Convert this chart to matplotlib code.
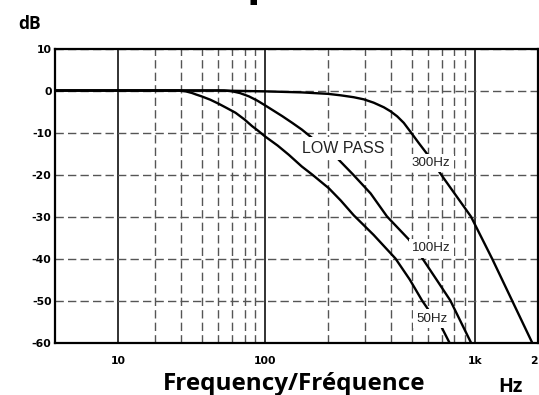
import matplotlib
matplotlib.use("Agg")
import matplotlib.pyplot as plt

plt.rcParams["axes.unicode_minus"] = False

# response curves (Hz, dB)
f_50 = [10, 39, 42, 45, 47, 50, 55, 60.5, 66, 72.5, 80, 87, 93, 100, 115, 130, 150, 168,
        202, 230, 265, 330, 419, 490, 561, 615, 691, 757]
db_50 = [0, 0, -0.2, -0.6, -0.95, -1.4, -2.2, -3.2, -4.2, -5.3, -6.9, -8.5, -9.6, -10.9,
         -13.1, -15.3, -18.1, -20, -23.3, -26.2, -29.7, -34.4, -40, -45, -50, -52.9, -56.1, -60]

f_100 = [10, 64, 70, 76, 84, 92, 100, 110, 121, 135, 150, 168, 221, 262, 319, 382,
         484, 560, 661, 765, 959]
db_100 = [0, 0, -0.2, -0.6, -1.4, -2.4, -3.5, -4.8, -6.1, -7.7, -9.3, -11.3, -16.1, -19.9,
          -24.5, -30, -35.4, -39.8, -45.2, -50, -60]

f_300 = [10, 60, 100, 150, 200, 230, 265, 296, 330, 369, 397, 427, 459, 497, 541, 597,
         691, 959, 1209, 1506, 1876]
db_300 = [0, 0, -0.2, -0.45, -0.8, -1.15, -1.6, -2.1, -2.9, -4.0, -4.95, -6.15, -7.7, -10,
          -12.5, -15.3, -20, -30, -40, -50, -60]

# axis ticks as printed on the chart (the last one is cut to "2" at the edge)
x_major = [20, 100, 1000, 2000]
x_major_labels = ["10", "100", "1k", "2"]
x_minor = [30, 40, 50, 60, 70, 80, 90, 200, 300, 400, 500, 600, 700, 800, 900]
y_ticks = [10, 0, -10, -20, -30, -40, -50, -60]

curve_labels = ["50Hz", "100Hz", "300Hz"]
curve_label_pos = [(624, -54.3), (624, -37.6), (620, -17.3)]

fig = plt.figure(figsize=(5.39, 3.95), dpi=100)
ax = fig.add_axes([0.102, 0.1329, 0.896, 0.7443])

ax.set_xscale("log")
ax.set_xlim(10, 2000)
ax.set_ylim(-60, 10)

ax.set_xticks(x_major, labels=x_major_labels)
ax.set_xticks(x_minor, minor=True)
ax.set_xticklabels([], minor=True)
ax.set_yticks(y_ticks)

ax.tick_params(which="both", length=0)
ax.tick_params(axis="x", pad=9.5, labelsize=7.8)
ax.tick_params(axis="y", pad=2.5, labelsize=7.8)
for lab in ax.get_xticklabels() + ax.get_yticklabels():
    lab.set_fontweight("bold")
    lab.set_family("DejaVu Sans")
ax.get_xticklabels()[-1].set_horizontalalignment("right")

# grid: solid at decades, dashed elsewhere
dash = (0, (6, 3))
ax.grid(which="major", axis="x", color="#222222", lw=1.3, ls="-", zorder=1)
ax.grid(which="minor", axis="x", color="#555555", lw=1.0, ls=dash, zorder=1)
ax.grid(which="major", axis="y", color="#555555", lw=1.0, ls=dash, zorder=1)
ax.set_axisbelow(True)

for sp in ax.spines.values():
    sp.set_linewidth(1.6)
    sp.set_color("black")

for f, db in [(f_50, db_50), (f_100, db_100), (f_300, db_300)]:
    ax.plot(f, db, color="black", lw=1.7, zorder=3, solid_joinstyle="round")

box = dict(boxstyle="square,pad=0.25", fc="white", ec="none")
ax.text(237, -13.9, "LOW PASS", ha="center", va="center", fontsize=11.5,
        family="Liberation Sans", color="#222222", bbox=box, zorder=4)
for lab, (x, y) in zip(curve_labels, curve_label_pos):
    ax.text(x, y, lab, ha="center", va="center", fontsize=9.6,
            family="Liberation Sans", color="#222222", bbox=box, zorder=4)

# axis captions
fig.text(18 / 539, 1 - 29 / 395, "dB", fontsize=12.5, fontweight="bold", family="Open Sans")
fig.text(294.5 / 539, 1 - 390 / 395, "Frequency/Fréquence", ha="center", va="baseline",
         fontsize=17.5, fontweight="bold", family="Open Sans")
fig.text(510 / 539, 1 - 392 / 395, "Hz", ha="center", va="baseline",
         fontsize=14, fontweight="bold", family="Open Sans")

# cut-off title above the frame (only the descender shows)
fig.text(247 / 539, 1 + 6 / 395, "p", ha="left", va="baseline",
         fontsize=32, fontweight="bold", family="Open Sans")

fig.savefig("out.png", dpi=100)
